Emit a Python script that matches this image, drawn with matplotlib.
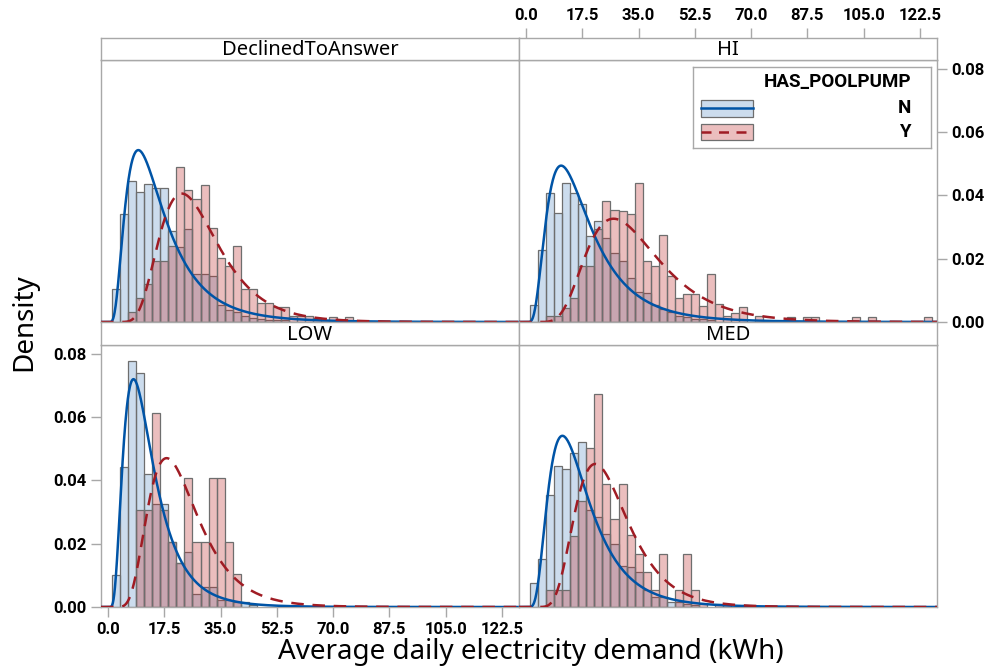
import numpy as np
import matplotlib
matplotlib.use("Agg")
import matplotlib.pyplot as plt
from matplotlib.patches import Rectangle

plt.rcParams['font.family'] = ['Noto Sans', 'DejaVu Sans']
BOLD = ['Roboto', 'DejaVu Sans']

W, H = 993, 670

# histogram densities, bins of width 2.5 centred at 2.5, 5.0, 7.5, ...
bin_width = 2.5
first_center = 2.5

n_declined = [0.0104, 0.034, 0.0445, 0.0411, 0.0437, 0.0424, 0.0422, 0.0287, 0.0237, 0.0295,
              0.015, 0.0152, 0.0145, 0.0055, 0.0039, 0.0031, 0.0018, 0.0013, 0.001, 0.0007,
              0.0005, 0.0005]
y_declined = [0, 0, 0.0031, 0.0076, 0.012, 0.0194, 0.0194, 0.024, 0.049, 0.0416,
              0.0387, 0.0432, 0.0296, 0.0203, 0.0178, 0.024, 0.0104, 0.0104, 0.006, 0.006,
              0.0047, 0.0047, 0.0018, 0.0018, 0.0018, 0.0013, 0.0005, 0.0016, 0, 0.0016]

n_hi = [0.0053, 0.0226, 0.0408, 0.0343, 0.044, 0.0408, 0.0374, 0.0271, 0.0318, 0.0265,
        0.0218, 0.0192, 0.014, 0.0095, 0.009, 0.0055, 0.004, 0.003, 0.002, 0.0015,
        0.001, 0.001, 0.0005]
y_hi = [0, 0, 0.0018, 0.0018, 0.0045, 0.0077, 0.0176, 0.0176, 0.0292, 0.0382,
        0.0353, 0.035, 0.034, 0.044, 0.0192, 0.0178, 0.0276, 0.0145, 0.0076, 0.0088,
        0.0088, 0.005, 0.0152, 0.0057, 0.0018, 0.0028, 0.0046, 0, 0.0018, 0,
        0, 0, 0.0016, 0, 0.0016, 0.0016, 0, 0, 0, 0,
        0.0016, 0, 0.0016, 0, 0, 0, 0, 0, 0, 0.0016]

n_low = [0.0102, 0.0441, 0.0776, 0.0739, 0.042, 0.0326, 0.0326, 0.0205, 0.0139, 0.0175,
         0.0042, 0.0063, 0.0063, 0.0023, 0.0023, 0.0016, 0.0016, 0.0005]
y_low = [0, 0, 0, 0.0305, 0.0305, 0.0613, 0.0305, 0.0205, 0.0139, 0.0407,
         0.0205, 0.0205, 0.0407, 0.0407, 0.0205, 0.0105]

n_med = [0.0077, 0.0152, 0.0352, 0.0445, 0.0436, 0.0487, 0.0522, 0.0307, 0.0284, 0.0229,
         0.0198, 0.0128, 0.0126, 0.011, 0.0055, 0.0032, 0.0032, 0.0016, 0.0016, 0.001,
         0.0005]
y_med = [0, 0, 0.0053, 0.0053, 0.0053, 0.0224, 0.0334, 0.0502, 0.0673, 0.0389,
         0.0279, 0.0389, 0.0226, 0.0166, 0.011, 0.0055, 0.0166, 0, 0.0055, 0.0166,
         0.0055, 0.001, 0, 0.001, 0.001]

# lognormal fit (location, scale) for each panel
fit_n = [(2.648, 0.638), (2.766, 0.614), (2.415, 0.59), (2.737, 0.559)]
fit_y = [(3.289, 0.397), (3.474, 0.413), (3.083, 0.426), (3.214, 0.382)]

panel_names = ['DeclinedToAnswer', 'HI', 'LOW', 'MED']
n_data = [n_declined, n_hi, n_low, n_med]
y_data = [y_declined, y_hi, y_low, y_med]

xticks = [0.0, 17.5, 35.0, 52.5, 70.0, 87.5, 105.0, 122.5]
yticks = [0.00, 0.02, 0.04, 0.06, 0.08]
xlim = (-2.2, 127.8)
ylim = (0, 0.0827)

blue_line = '#0054a6'
red_line = '#a01c24'
blue_fill = (0.0, 0.33, 0.65, 0.2)
red_fill = (0.75, 0.16, 0.16, 0.3)
edge = '#6e6e6e'
frame = '#a8a8a8'


def frect(x0, y0, x1, y1):
    return [x0 / W, 1 - y1 / H, (x1 - x0) / W, (y1 - y0) / H]


def lognorm_pdf(x, mu, sigma):
    out = np.zeros_like(x)
    pos = x > 0
    lx = np.log(x[pos])
    out[pos] = np.exp(-(lx - mu) ** 2 / (2 * sigma ** 2)) / (x[pos] * sigma * np.sqrt(2 * np.pi))
    return out


def bold_labels(ax):
    for lab in ax.get_xticklabels() + ax.get_yticklabels():
        lab.set_fontweight('bold')
        lab.set_family(BOLD)
        lab.set_fontsize(12)


def style_frame(ax):
    for s in ax.spines.values():
        s.set_color(frame)
        s.set_linewidth(1.0)
    ax.tick_params(left=False, bottom=False, labelleft=False, labelbottom=False,
                   colors=frame, labelcolor='black', length=7, width=1)


fig = plt.figure(figsize=(W / 100, H / 100), dpi=100)

# panel boxes in pixels: (x0, y0, x1, y1), strip above each
boxes = [(101, 60, 519, 322), (519, 60, 937, 322), (101, 345, 519, 607), (519, 345, 937, 607)]
strips = [(101, 38, 519, 60), (519, 38, 937, 60), (101, 322, 519, 345), (519, 322, 937, 345)]

xs = np.linspace(xlim[0], xlim[1], 1200)

axes = []
for i, name in enumerate(panel_names):
    ax = fig.add_axes(frect(*boxes[i]))
    axes.append(ax)
    for vals, fc in ((n_data[i], blue_fill), (y_data[i], red_fill)):
        centers = first_center + bin_width * np.arange(len(vals))
        vals = np.asarray(vals)
        keep = vals > 0
        ax.bar(centers[keep], vals[keep], width=bin_width, facecolor=fc,
               edgecolor=edge, linewidth=0.9, zorder=2)
    ax.plot(xs, lognorm_pdf(xs, *fit_n[i]), color=blue_line, lw=1.8, zorder=4,
            solid_capstyle='butt')
    ax.plot(xs, lognorm_pdf(xs, *fit_y[i]), color=red_line, lw=1.8, ls=(0, (5, 3.5)),
            zorder=5)
    ax.set_xlim(xlim)
    ax.set_ylim(ylim)
    ax.set_xticks(xticks)
    ax.set_yticks(yticks)
    ax.set_xticklabels([f'{t:.1f}' for t in xticks])
    ax.set_yticklabels([f'{t:.2f}' for t in yticks])
    style_frame(ax)

    sx = fig.add_axes(frect(*strips[i]))
    sx.set_xlim(xlim)
    sx.set_xticks(xticks)
    sx.set_xticklabels([f'{t:.1f}' for t in xticks])
    sx.set_yticks([])
    style_frame(sx)
    sx.text(0.5, 0.45, name, transform=sx.transAxes, ha='center', va='center',
            fontsize=14.5, color='black')
    if i == 1:
        sx.tick_params(top=True, labeltop=True, bottom=False, labelbottom=False)
        bold_labels(sx)

# outer axes with ticks
axes[2].tick_params(left=True, bottom=True, labelleft=True, labelbottom=True)
axes[1].yaxis.tick_right()
axes[1].tick_params(right=True, labelright=True, left=False, labelleft=False)
bold_labels(axes[1])
bold_labels(axes[2])

# legend panel drawn in pixel coordinates
lg = fig.add_axes(frect(693, 67, 931, 148))
lg.set_xlim(693, 931)
lg.set_ylim(148, 67)
lg.set_xticks([])
lg.set_yticks([])
for s in lg.spines.values():
    s.set_color(frame)
    s.set_linewidth(1.0)
lg.text(911, 82, 'HAS_POOLPUMP', ha='right', va='center', fontsize=13.5,
        fontweight='bold', family=BOLD)
for yc, fc, lc, ls, lab in ((108, blue_fill, blue_line, '-', 'N'),
                            (132, red_fill, red_line, (0, (4, 3)), 'Y')):
    lg.add_patch(Rectangle((701, yc - 8.5), 52, 17, facecolor=fc, edgecolor=edge, lw=0.9))
    lg.plot([701, 753], [yc, yc], color=lc, lw=1.8, ls=ls)
    lg.text(911, yc, lab, ha='right', va='center', fontsize=13.5, fontweight='bold',
            family=BOLD)

fig.text(24 / W, 1 - 322 / H, 'Density', rotation=90, ha='center', va='center', fontsize=20)
fig.text(531 / W, 1 - 652 / H, 'Average daily electricity demand (kWh)', ha='center',
         va='center', fontsize=20)

fig.savefig('out.png', dpi=100)
